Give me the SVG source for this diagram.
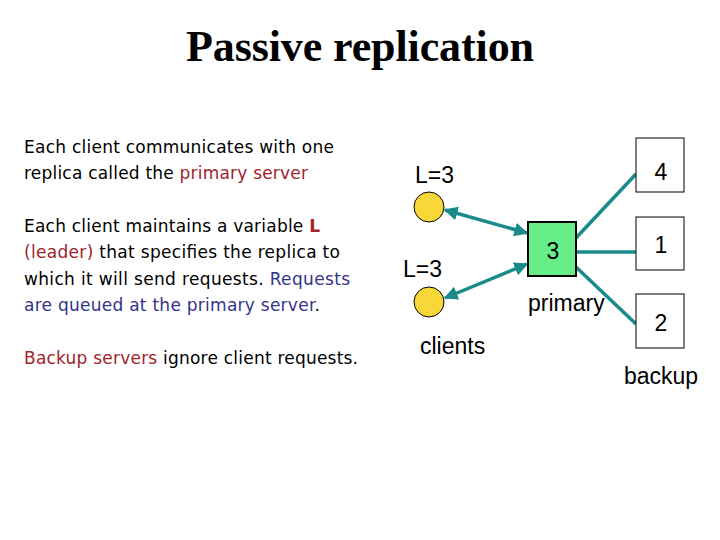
<svg xmlns="http://www.w3.org/2000/svg" width="720" height="540" viewBox="0 0 720 540">
<defs>
<marker id="ah" viewBox="0 0 10 10" refX="9" refY="5" markerWidth="4" markerHeight="4" orient="auto-start-reverse"><path d="M0,0 L10,5 L0,10 z" fill="#1a8a8a"/></marker>
<style>
.t{font-family:"DejaVu Sans",sans-serif;font-size:17px;fill:#000}
.r{fill:#a0242a}.b{fill:#33338a}
.d{font-family:"Liberation Sans",Arial,sans-serif;font-size:23px;fill:#000}
.c{stroke:#1a8a8a;stroke-width:3.5;fill:none}
.bx{fill:#fff;stroke:#000;stroke-width:1}
.cl{fill:#f8d838;stroke:#000;stroke-width:1}
</style>
</defs>
<rect width="720" height="540" fill="#fff"/>
<text x="360" y="61" text-anchor="middle" font-family="Liberation Serif,serif" font-weight="bold" font-size="44" textLength="348">Passive replication</text>
<g id="desc">
<text class="t" x="24" y="153" textLength="310">Each client communicates with one</text>
<text class="t" x="24" y="179" textLength="284">replica called the <tspan class="r">primary server</tspan></text>
<text class="t" x="24" y="232" textLength="296">Each client maintains a variable <tspan font-weight="bold" class="r">L</tspan></text>
<text class="t" x="24" y="258" textLength="316"><tspan class="r">(leader)</tspan> that specifies the replica to</text>
<text class="t" x="24" y="285" textLength="326">which it will send requests. <tspan class="b">Requests</tspan></text>
<text class="t" x="24" y="311" textLength="296"><tspan class="b">are queued at the primary server</tspan>.</text>
<text class="t" x="24" y="364" textLength="334"><tspan class="r">Backup servers</tspan> ignore client requests.</text>
</g>
<g id="connectors">
<line class="c" x1="445" y1="210" x2="527" y2="233" marker-start="url(#ah)" marker-end="url(#ah)"/>
<line class="c" x1="445" y1="298" x2="527" y2="264" marker-start="url(#ah)" marker-end="url(#ah)"/>
<line class="c" x1="575" y1="239" x2="636" y2="174"/>
<line class="c" x1="576" y1="252" x2="636" y2="252"/>
<line class="c" x1="576" y1="267" x2="636" y2="324"/>
</g>
<g id="client1"><text class="d" x="415" y="183">L=3</text><circle class="cl" cx="429" cy="207" r="15"/></g>
<g id="client2"><text class="d" x="403" y="277">L=3</text><circle class="cl" cx="429" cy="302" r="15"/><text class="d" x="420" y="354">clients</text></g>
<g id="primary"><rect x="528" y="222" width="48" height="54" fill="#66ee88" stroke="#000" stroke-width="2"/><text class="d" x="553" y="259" text-anchor="middle">3</text><text class="d" x="528" y="311">primary</text></g>
<g id="b4"><rect class="bx" x="636" y="138" width="48" height="54"/><text class="d" x="661" y="180" text-anchor="middle">4</text></g>
<g id="b1"><rect class="bx" x="636" y="217" width="48" height="53"/><text class="d" x="661" y="253" text-anchor="middle">1</text></g>
<g id="b2"><rect class="bx" x="636" y="294" width="48" height="54"/><text class="d" x="661" y="331" text-anchor="middle">2</text><text class="d" x="624" y="384">backup</text></g>
</svg>
